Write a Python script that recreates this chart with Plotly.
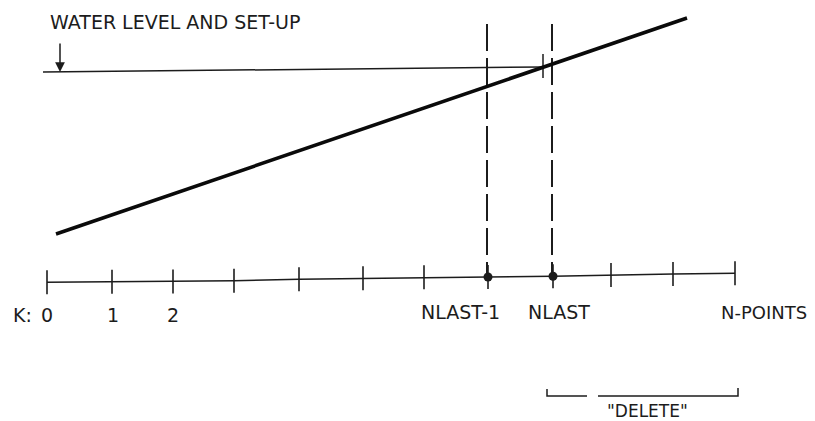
import plotly.graph_objects as go

# ---- data (drawing units: x to the right, y downward, page pixels) ----
tick_k = list(range(12))
tick_x = [47, 112, 173, 234, 299, 363, 424, 488, 553, 611, 673, 735]
tick_base = [282.3, 281.7, 281.5, 280.7, 279.3, 278.3, 277.3, 277.0, 276.3, 275.0, 274.0, 273.3]
tick_half = 12

label_text = ["K:", "0", "1", "2", "NLAST-1", "NLAST"]
label_x = [22, 47, 113, 173, 460, 559]
label_y = [315, 315, 315, 315, 312, 312]
end_label_text = "N-POINTS"
end_label_x = 809
end_label_y = 312

bed_x = [56, 687]
bed_y = [234, 18]

water_x = [43, 543]
water_y = [72, 67]

nlast_idx = [7, 8]
nlast_line_x = [487, 552]
nlast_top = 24

mark_x = 543
mark_y = [54, 78]

arrow_x = 60
arrow_y = [42, 72]
title_text = "WATER LEVEL AND SET-UP"
title_x = 48
title_y = 22

bracket_x = [547, 547, 587, None, 598, 738, 738]
bracket_y = [389, 396, 396, None, 396, 396, 388]
delete_text = '"DELETE"'
delete_x = 647
delete_y = 411

INK = "#1c1c1c"
PAGE_MARGIN = 8  # default body margin of the html page

fig = go.Figure()

# baseline
fig.add_trace(go.Scatter(x=tick_x, y=tick_base, mode="lines",
                         line=dict(color=INK, width=1.6), hoverinfo="skip"))
# ticks
tx, ty = [], []
for x, b in zip(tick_x, tick_base):
    tx += [x, x, None]
    ty += [b - tick_half, b + tick_half, None]
fig.add_trace(go.Scatter(x=tx, y=ty, mode="lines",
                         line=dict(color=INK, width=1.6), hoverinfo="skip"))

# dashed verticals at NLAST-1 and NLAST
for i, lx in zip(nlast_idx, nlast_line_x):
    fig.add_trace(go.Scatter(x=[lx, lx], y=[nlast_top, tick_base[i]], mode="lines",
                             line=dict(color=INK, width=2, dash="27px,7px"),
                             hoverinfo="skip"))
fig.add_trace(go.Scatter(x=[tick_x[i] for i in nlast_idx],
                         y=[tick_base[i] for i in nlast_idx], mode="markers",
                         marker=dict(color=INK, size=9), hoverinfo="skip"))

# water level line
fig.add_trace(go.Scatter(x=water_x, y=water_y, mode="lines",
                         line=dict(color=INK, width=1.5), hoverinfo="skip"))
fig.add_trace(go.Scatter(x=[mark_x, mark_x], y=mark_y, mode="lines",
                         line=dict(color=INK, width=1.5), hoverinfo="skip"))

# bed profile
fig.add_trace(go.Scatter(x=bed_x, y=bed_y, mode="lines",
                         line=dict(color="#0a0a0a", width=3.6), hoverinfo="skip"))

# delete bracket
fig.add_trace(go.Scatter(x=bracket_x, y=bracket_y, mode="lines",
                         line=dict(color=INK, width=1.5), hoverinfo="skip"))

font = dict(family="DejaVu Sans", size=19, color=INK)
for t, x, y in zip(label_text, label_x, label_y):
    fig.add_annotation(x=x, y=y, text=t, showarrow=False, font=font,
                       xanchor="center", yanchor="middle")
fig.add_annotation(x=end_label_x, y=end_label_y, text=end_label_text, showarrow=False,
                   font=dict(family="DejaVu Sans", size=18, color=INK),
                   xanchor="right", yanchor="middle")
fig.add_annotation(x=title_x, y=title_y, text=title_text, showarrow=False,
                   font=font, xanchor="left", yanchor="middle")
fig.add_annotation(x=delete_x, y=delete_y, text=delete_text, showarrow=False,
                   font=dict(family="DejaVu Sans", size=17, color=INK),
                   xanchor="center", yanchor="middle")
# arrow
fig.add_annotation(x=arrow_x, y=arrow_y[1], ax=arrow_x, ay=arrow_y[0],
                   xref="x", yref="y", axref="x", ayref="y", text="",
                   showarrow=True, arrowhead=2, arrowsize=1.3, arrowwidth=1.5,
                   arrowcolor=INK)

fig.update_layout(width=815 - PAGE_MARGIN, height=421 - PAGE_MARGIN,
                  margin=dict(l=0, r=0, t=0, b=0),
                  paper_bgcolor="white", plot_bgcolor="white", showlegend=False,
                  xaxis=dict(range=[PAGE_MARGIN, 815], visible=False, fixedrange=True),
                  yaxis=dict(range=[421, PAGE_MARGIN], visible=False, fixedrange=True))

fig.write_html("out.html", config={"displayModeBar": False})
